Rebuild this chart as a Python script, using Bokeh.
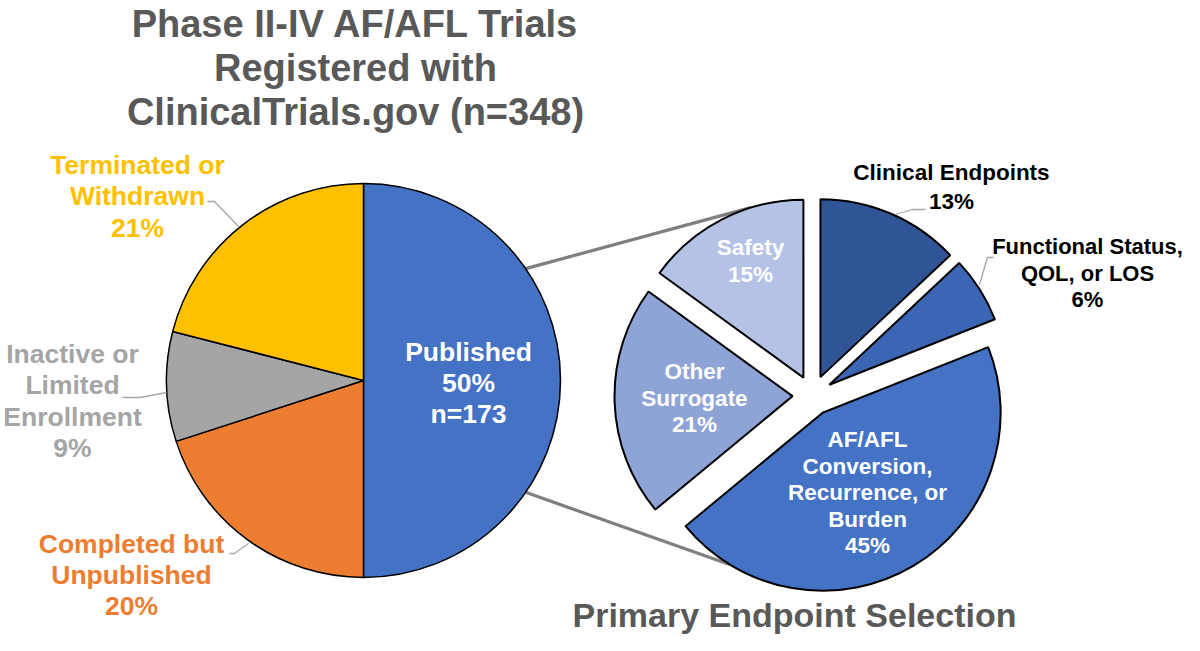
import numpy as np
from bokeh.plotting import figure
from bokeh.models import ColumnDataSource
from bokeh.core.properties import value
from bokeh.embed import file_html
from bokeh.resources import INLINE

# ---------------- data ----------------
title_lines = ["Phase II-IV AF/AFL Trials", "Registered with", "ClinicalTrials.gov (n=348)"]
subtitle = "Primary Endpoint Selection"

status_names = ["Published", "Completed but Unpublished", "Inactive or Limited Enrollment", "Terminated or Withdrawn"]
status_pct = [50, 20, 9, 21]
published_n = 173

endpoint_names = ["Clinical Endpoints", "Functional Status, QOL, or LOS",
                  "AF/AFL Conversion, Recurrence, or Burden", "Other Surrogate", "Safety"]
endpoint_pct = [13, 6, 45, 21, 15]

# ---------------- styles / layout ----------------
status_colors = ["#4472C4", "#ED7D31", "#A5A5A5", "#FFC000"]
endpoint_colors = ["#2F5597", "#3B66B5", "#4472C4", "#8EA3D6", "#B4C2E6"]
FONT = value("Liberation Sans")

W, H = 1184, 635
p = figure(width=W, height=H, x_range=(0, W), y_range=(-H, 0),
           output_backend="svg", toolbar_location=None, min_border=0,
           x_axis_type=None, y_axis_type=None, outline_line_color=None,
           background_fill_color="white", border_fill_color="white")
p.grid.visible = False


def angles(pcts):
    frac = np.asarray(pcts, dtype=float) / np.sum(pcts)
    cum = np.concatenate([[0.0], np.cumsum(frac)]) * 2 * np.pi
    return cum[:-1], cum[1:]          # clockwise from 12 o'clock


def pt(cx, cy, r, theta):
    """point (px, y down) at clockwise angle theta from top"""
    return cx + r * np.sin(theta), cy - r * np.cos(theta)


# left pie geometry (pixel coords, y down)
L_CX, L_CY, L_R = 363.0, 380.0, 197.0
# right pie geometry
R_CX, R_CY, R_R, R_EXPL = 812.0, 395.0, 178.0, 20.0

la0, la1 = angles(status_pct)
ra0, ra1 = angles(endpoint_pct)
rmid = (ra0 + ra1) / 2
r_cx = R_CX + R_EXPL * np.sin(rmid)
r_cy = R_CY - R_EXPL * np.cos(rmid)

# connector lines (behind pies)
top_start = pt(L_CX, L_CY, L_R, np.deg2rad(55.4))
bot_start = pt(L_CX, L_CY, L_R, np.deg2rad(124.6))
top_end = pt(r_cx[4], r_cy[4], R_R, np.deg2rad(342.8))
bot_end = pt(r_cx[2], r_cy[2], R_R, np.deg2rad(211.5))
p.multi_line(xs=[[top_start[0], top_end[0]], [bot_start[0], bot_end[0]]],
             ys=[[-top_start[1], -top_end[1]], [-bot_start[1], -bot_end[1]]],
             line_color="#7F7F7F", line_width=3.2)

# left pie
left_src = ColumnDataSource(dict(
    x=[L_CX] * len(status_pct), y=[-L_CY] * len(status_pct),
    start=np.pi / 2 - la0, end=np.pi / 2 - la1, color=status_colors))
p.wedge(x="x", y="y", radius=L_R, start_angle="start", end_angle="end",
        direction="clock", fill_color="color", line_color="black",
        line_width=1.5, source=left_src)

# right (exploded) pie
right_src = ColumnDataSource(dict(
    x=r_cx, y=-r_cy, start=np.pi / 2 - ra0, end=np.pi / 2 - ra1, color=endpoint_colors))
p.wedge(x="x", y="y", radius=R_R, start_angle="start", end_angle="end",
        direction="clock", fill_color="color", line_color="black",
        line_width=2, source=right_src)

# leader lines
leaders = [
    [(207, 201), (214, 201), (238, 226)],   # Terminated
    [(122, 397), (140, 397), (166, 392)],   # Inactive
    [(229, 553), (234, 553), (248, 543)],   # Completed
    [(895, 214), (912, 209), (925, 209)],   # Clinical
    [(979, 284), (987, 257), (993, 257)],   # Functional
]
p.multi_line(xs=[[a for a, b in L] for L in leaders],
             ys=[[-b for a, b in L] for L in leaders],
             line_color="#A6A6A6", line_width=1.3)


def label(lines, cx, mid0, step, size, color):
    p.text(x=[cx] * len(lines), y=[-(mid0 + i * step) for i in range(len(lines))],
           text=lines, text_font=FONT, text_font_style="bold",
           text_font_size=size, text_color=color, text_align="center",
           text_baseline="middle")


# titles
label(title_lines, 355, 23, 44, "38px", "#595959")
label([subtitle], 794, 614, 0, "34px", "#595959")

# left pie labels
pct = [f"{v}%" for v in status_pct]
label([status_names[0], pct[0], f"n={published_n}"], 468, 351, 31, "26.5px", "white")
label(["Completed but", "Unpublished", pct[1]], 131, 543, 31, "26.5px", status_colors[1])
label(["Inactive or", "Limited", "Enrollment", pct[2]], 72, 353, 31.5, "26.5px", status_colors[2])
label(["Terminated or", "Withdrawn", pct[3]], 137, 164, 31.5, "26.5px", "#FFC000")

# right pie labels
epct = [f"{v}%" for v in endpoint_pct]
label([endpoint_names[0], epct[0]], 951, 172, 29, "22.5px", "black")
label(["Functional Status,", "QOL, or LOS", epct[1]], 1087, 246, 26.5, "22px", "black")
label(["AF/AFL", "Conversion,", "Recurrence, or", "Burden", epct[2]], 867, 439, 26.5, "22.5px", "white")
label(["Other", "Surrogate", epct[3]], 694, 371, 26.5, "22.5px", "white")
label([endpoint_names[4], epct[4]], 750, 247, 27, "22.5px", "white")

open("out.html", "w").write(file_html(p, INLINE))
